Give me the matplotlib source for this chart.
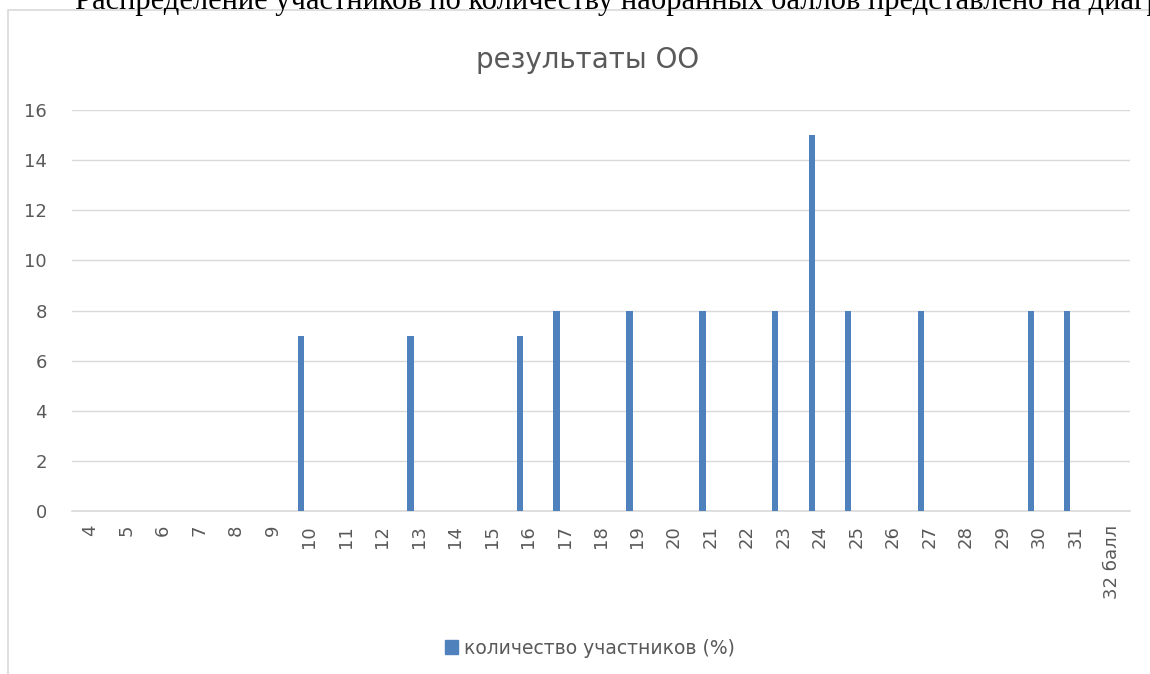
import numpy as np
import matplotlib.pyplot as plt
from matplotlib.patches import Rectangle, Patch

categories = [str(n) for n in range(4, 32)] + ['32 балл']
values = [0, 0, 0, 0, 0, 0, 7, 0, 0, 7, 0, 0, 7, 8, 0, 8, 0, 8, 0, 8, 15, 8, 0, 8, 0, 0, 8, 8, 0]
series_name = 'количество участников (%)'
title = 'результаты ОО'
caption = 'Распределение участников по количеству набранных баллов представлено на диаграмме'

bar_color = '#4f81bd'
grid_color = '#d9d9d9'
text_color = '#595959'

fig = plt.figure(figsize=(11.5, 6.74), dpi=100)
fig.patch.set_facecolor('white')

# chart frame (cut off at the right and bottom)
fig.patches.append(Rectangle((8 / 1150, -0.1), 1.2, 1 - 10 / 674 + 0.1,
                             transform=fig.transFigure, fill=False,
                             edgecolor=grid_color, linewidth=1.2))

# document text clipped at the top (it runs off the page edge in the reference)
fig.text(75 / 1150, 1 - 9 / 674, caption, fontsize=22, family='Liberation Serif',
         va='baseline', ha='left', color='black', clip_on=True)

ax = fig.add_axes([72 / 1150, 1 - 511 / 674, (1130 - 72) / 1150, (511 - 110) / 674])
x = np.arange(len(categories))
ax.bar(x - 0.22, values, width=0.17, color=bar_color, zorder=3)

ax.set_xlim(-0.5, len(categories) - 0.5)
ax.set_ylim(0, 16)
ax.set_yticks(range(0, 17, 2))
ax.set_xticks(x)
ax.set_xticklabels(categories, rotation=90, va='top', ha='center')
ax.tick_params(axis='both', length=0, labelsize=13, labelcolor=text_color)
ax.tick_params(axis='y', pad=18)
ax.tick_params(axis='x', pad=10)
ax.grid(axis='y', color=grid_color, linewidth=1, zorder=0)
for side in ['top', 'right', 'left']:
    ax.spines[side].set_visible(False)
ax.spines['bottom'].set_color(grid_color)
ax.spines['bottom'].set_linewidth(1.2)

fig.text(588 / 1150, 1 - 60 / 674, title, fontsize=20, color=text_color, ha='center', va='center')

fig.legend(handles=[Patch(color=bar_color, label=series_name)], loc='center',
           bbox_to_anchor=(590 / 1150, 1 - 648 / 674), frameon=False, fontsize=13.5,
           handlelength=0.7, handleheight=0.7, handletextpad=0.3, labelcolor=text_color)

fig.savefig('out.png', dpi=100)
